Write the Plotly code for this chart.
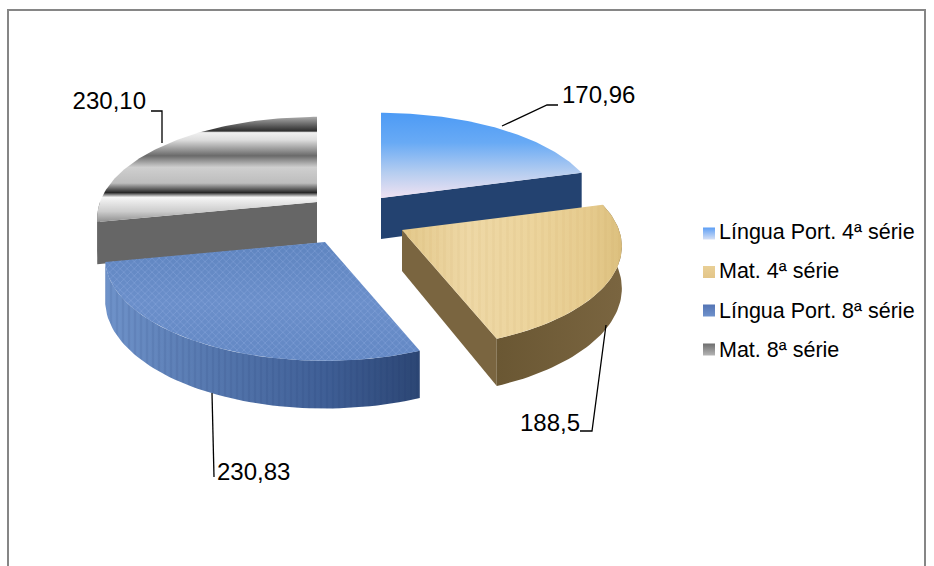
import numpy as np
import plotly.graph_objects as go

# ---- data ----
categories = ["Língua Port. 4ª série", "Mat. 4ª série", "Língua Port. 8ª série", "Mat. 8ª série"]
values = [170.96, 188.5, 230.83, 230.10]
value_labels = ["170,96", "188,5", "230,83", "230,10"]

# ---- layout of the exploded pie (pixel space of the plot) ----
W, H = 934, 566
RX, RY, PERSP, DEPTH = 217, 102, 0.165, 41
centers = [(381, 198), (402, 230), (325, 242), (317, 202)]


def flip(scale):
    # the y axis runs downwards, so vertical gradients are listed top-to-bottom and flipped here
    return [[round(1 - p, 4), c] for p, c in reversed(scale)]


fills_top = [
    flip([[0, "#4d9bf5"], [0.35, "#68aaf5"], [0.7, "#b5cdf0"], [1, "#f0e2f2"]]),
    [[0, "#e3c88a"], [0.3, "#eed8a6"], [0.6, "#ecd49c"], [0.85, "#e6cb8e"], [1, "#dcc07e"]],
    flip([[0, "#5f85c0"], [0.5, "#6b8fca"], [1, "#6388c4"]]),
    flip([[0, "#aaaaaa"], [0.11, "#444444"], [0.135, "#2e2e2e"], [0.15, "#f0f0f0"], [0.22, "#dddddd"],
          [0.37, "#6a6a6a"], [0.48, "#cfcfcf"], [0.63, "#bdbdbd"], [0.72, "#262626"], [0.765, "#f6f6f6"],
          [0.90, "#cccccc"], [1, "#8f8f8f"]]),
]
grad_type = ["vertical", "horizontal", "vertical", "vertical"]
pattern_top = [
    None,
    dict(shape="|", fgcolor="rgba(190,150,80,0.16)", size=7, solidity=0.4, bgcolor="rgba(0,0,0,0)"),
    dict(shape="x", fgcolor="rgba(175,200,245,0.5)", size=5, solidity=0.3, bgcolor="rgba(0,0,0,0)"),
    None,
]
pattern_side = dict(shape="|", fgcolor="rgba(20,40,90,0.18)", size=6, solidity=0.4, bgcolor="rgba(0,0,0,0)")
side_arc = ["#234270", ["#7a6540", "#6a5733"], ["#6f93ca", "#5577ae", "#3f5f96", "#2c4674"], "#666666"]
legend_colors = [("#5c9ef5", "#d6e0f5"), ("#e9cf96", "#e3c588"), ("#5474b4", "#6f92cc"), ("#6e6e6e", "#b5b5b5")]
legend_y = [233.5, 272, 310.5, 349.5]
text_y = [234, 273, 313, 352]

label_pos = [(562, 97, "middle right"), (580, 425, "middle left"), (217, 474, "middle right"), (146, 103, "middle left")]
leaders = [
    ([502, 547, 558], [126, 105, 105]),
    ([606, 592, 580], [325, 431, 431]),
    ([212, 214], [393, 477]),
    ([162, 162, 151], [143, 111, 111]),
]

# ---- angles from the values, clockwise from twelve o'clock ----
total = sum(values)
edges = np.concatenate([[0], np.cumsum(values)]) / total * 2 * np.pi


def project(c, t, drop=False):
    X, Y = np.sin(t), -np.cos(t)
    f = 1 + PERSP * Y
    x = c[0] + RX * X * f
    y = c[1] + RY * Y * f
    if drop:
        y = y + DEPTH * f
    return x, y


fig = go.Figure()


def add_poly(x, y, color=None, grad=None, pattern=None):
    kw = dict(x=list(x), y=list(y), mode="lines", fill="toself", line=dict(width=0),
              hoverinfo="skip", showlegend=False)
    if color:
        kw["fillcolor"] = color
    if grad:
        kw["fillgradient"] = grad
    if pattern:
        kw["fillpattern"] = pattern
        kw["fillcolor"] = "rgba(0,0,0,0)"
    fig.add_trace(go.Scatter(**kw))


def side_between(c, t0, t1, color=None, grad=None, pattern=None):
    ts = np.linspace(t0, t1, 60)
    x0, y0 = project(c, ts)
    x1, y1 = project(c, ts[::-1], drop=True)
    px, py = np.r_[x0, x1], np.r_[y0, y1]
    add_poly(px, py, color=color, grad=grad)
    if pattern:
        add_poly(px, py, pattern=pattern)


def radial_side(c, t, color):
    xa, ya = project(c, t)
    xb, yb = project(c, t, drop=True)
    add_poly([c[0], xa, xb, c[0]], [c[1], ya, yb, c[1] + DEPTH], color=color)


for i in [3, 0, 2, 1]:
    c = centers[i]
    t0, t1 = edges[i], edges[i + 1]
    if i == 0:
        radial_side(c, t1, side_arc[0])
    if i == 1:
        radial_side(c, t1, side_arc[1][0])
        side_between(c, t0, t1, grad=dict(type="horizontal", colorscale=[[0, side_arc[1][1]], [1, side_arc[1][0]]]))
    if i == 2:
        s = side_arc[2]
        side_between(c, t0, t1, grad=dict(type="horizontal",
                                          colorscale=[[0, s[0]], [0.35, s[1]], [0.7, s[2]], [1, s[3]]]),
                     pattern=pattern_side)
    if i == 3:
        radial_side(c, t0, side_arc[3])
        side_between(c, t0, 1.5 * np.pi, color=side_arc[3])
    ts = np.linspace(t0, t1, 90)
    ax, ay = project(c, ts)
    px, py = np.r_[c[0], ax, c[0]], np.r_[c[1], ay, c[1]]
    add_poly(px, py, grad=dict(type=grad_type[i], colorscale=fills_top[i]))
    if pattern_top[i]:
        add_poly(px, py, pattern=pattern_top[i])

# leader lines and value labels
for i, (lx, ly) in enumerate(leaders):
    fig.add_trace(go.Scatter(x=lx, y=ly, mode="lines", line=dict(color="#000000", width=1.3),
                             hoverinfo="skip", showlegend=False))
    tx, ty, pos = label_pos[i]
    fig.add_trace(go.Scatter(x=[tx], y=[ty], mode="text", text=[value_labels[i]], textposition=pos,
                             textfont=dict(family="Liberation Sans", size=24, color="#000000"),
                             hoverinfo="skip", showlegend=False))

# legend
for i, name in enumerate(categories):
    top, bottom = legend_colors[i]
    fig.add_trace(go.Scatter(x=[709], y=[legend_y[i]], mode="markers", name=name,
                             marker=dict(symbol="square", size=12, color=top,
                                         gradient=dict(type="vertical", color=bottom)),
                             hoverinfo="name", showlegend=False))
    fig.add_trace(go.Scatter(x=[719], y=[text_y[i]], mode="text", text=[name], textposition="middle right",
                             textfont=dict(family="Liberation Sans", size=21.5, color="#000000"),
                             hoverinfo="skip", showlegend=False))

fig.update_layout(
    width=W, height=H, margin=dict(l=0, r=0, t=0, b=0), paper_bgcolor="#ffffff", plot_bgcolor="#ffffff",
    xaxis=dict(range=[0, W], visible=False, fixedrange=True),
    yaxis=dict(range=[H, 0], visible=False, fixedrange=True),
    shapes=[dict(type="rect", xref="x", yref="y", x0=8, y0=10, x1=925, y1=600,
                 line=dict(color="#868686", width=2), fillcolor="rgba(0,0,0,0)", layer="below")],
    showlegend=False,
)
fig.write_html("out.html", config={"displayModeBar": False},
               post_script="document.body.style.margin='0';document.documentElement.style.overflow='hidden';")
